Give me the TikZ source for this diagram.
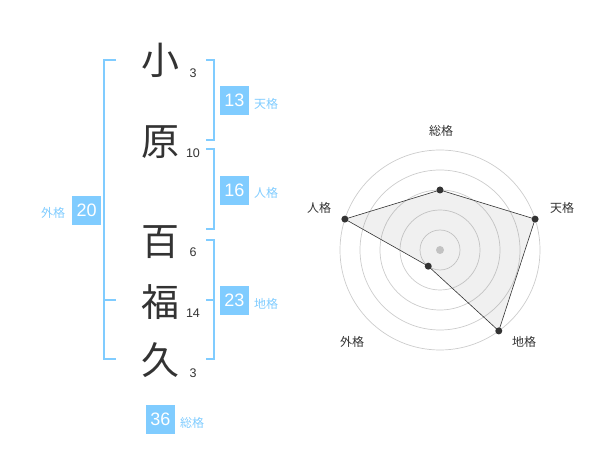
\documentclass[tikz,border=0pt]{standalone}
\usepackage{fontspec}
\setmainfont{Liberation Sans}
\newfontfamily\jpfont{Noto Sans CJK JP}
\definecolor{kakublue}{RGB}{128,204,255}
\definecolor{inkgray}{RGB}{51,51,51}
\definecolor{ringgray}{RGB}{204,204,204}

\begin{document}
\begin{tikzpicture}[x=1pt,y=-1pt]
\tikzstyle{kanji}=[font=\jpfont\fontsize{38}{38}\selectfont, text=inkgray, inner sep=0pt]
\tikzstyle{strokenum}=[font=\fontsize{12.5}{12.5}\selectfont, text=inkgray, inner sep=0pt]
\tikzstyle{kaku}=[fill=kakublue, text=white, minimum size=29pt, inner sep=0pt, font=\fontsize{18}{18}\selectfont]
\tikzstyle{kakuname}=[text=kakublue, font=\jpfont\fontsize{12}{12}\selectfont, inner sep=0pt]
\tikzstyle{bracket}=[draw=kakublue, line width=2pt]
\tikzstyle{ring}=[draw=ringgray, line width=0.7pt]
\tikzstyle{dot}=[circle, fill=inkgray, minimum size=7pt, inner sep=0pt]
\tikzstyle{axisname}=[text=inkgray, font=\jpfont\fontsize{12}{12}\selectfont, inner sep=0pt]

\useasboundingbox (0,0) rectangle (600,470);

% name
\draw (160,60) node[kanji] (c1) {小};
\draw (160,142) node[kanji] (c2) {原};
\draw (160,242) node[kanji] (c3) {百};
\draw (160,302) node[kanji] (c4) {福};
\draw (160,360) node[kanji] (c5) {久};

\draw (193,73) node[strokenum] (n1) {3};
\draw (193,153) node[strokenum] (n2) {10};
\draw (193,252) node[strokenum] (n3) {6};
\draw (193,313) node[strokenum] (n4) {14};
\draw (193,373) node[strokenum] (n5) {3};

% brackets
\draw[bracket] (116,60) -- (104,60) -- (104,359) -- (116,359);
\draw[bracket] (104,300) -- (116,300);
\draw[bracket] (206,60) -- (214,60) -- (214,140) -- (206,140);
\draw[bracket] (206,149) -- (214,149) -- (214,229) -- (206,229);
\draw[bracket] (206,240) -- (214,240) -- (214,359) -- (206,359);
\draw[bracket] (206,300) -- (214,300);

\draw (234.5,100.3) node[kaku] (ten) {13};
\draw (234.5,190.3) node[kaku] (jin) {16};
\draw (234.5,300.3) node[kaku] (chi) {23};
\draw (86.7,210.3) node[kaku] (gai) {20};
\draw (160.5,419) node[kaku] (sou) {36};

\draw (266,104) node[kakuname] (tenname) {天格};
\draw (266,193) node[kakuname] (jinname) {人格};
\draw (266,304) node[kakuname] (chiname) {地格};
\draw (53,213) node[kakuname] (gainame) {外格};
\draw (192,423) node[kakuname] (souname) {総格};

% radar
\coordinate (ctr) at (440,250);
\foreach \r in {20,40,60,80,100}
  \draw[ring] (ctr) circle (\r pt);
\fill[ringgray] (ctr) circle (4pt);

\path (ctr) ++(90:60pt) coordinate (p-sou);
\path (ctr) ++(18:100pt) coordinate (p-ten);
\path (ctr) ++(-54:100pt) coordinate (p-chi);
\path (ctr) ++(234:20pt) coordinate (p-gai);
\path (ctr) ++(162:100pt) coordinate (p-jin);

\draw[fill=gray, fill opacity=0.12, draw=inkgray, line width=0.6pt]
  (p-sou) -- (p-ten) -- (p-chi) -- (p-gai) -- (p-jin) -- cycle;

\draw (p-sou) node[dot] (dsou) {};
\draw (p-ten) node[dot] (dten) {};
\draw (p-chi) node[dot] (dchi) {};
\draw (p-gai) node[dot] (dgai) {};
\draw (p-jin) node[dot] (djin) {};

\draw (441,131) node[axisname] (asou) {総格};
\draw (562,208) node[axisname] (aten) {天格};
\draw (319,208) node[axisname] (ajin) {人格};
\draw (524,342) node[axisname] (achi) {地格};
\draw (352,342) node[axisname] (agai) {外格};
\end{tikzpicture}
\end{document}
